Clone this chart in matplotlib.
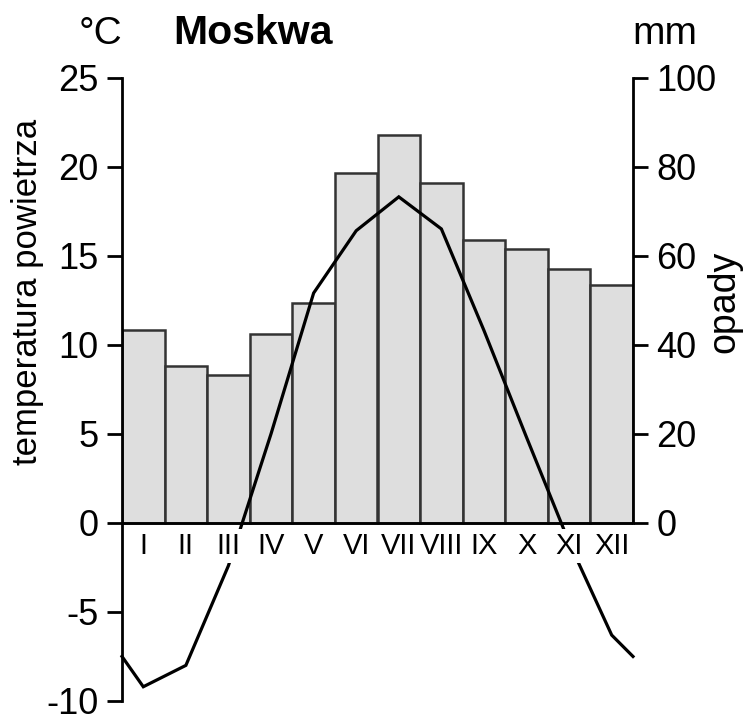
import matplotlib
matplotlib.use("Agg")
import matplotlib.pyplot as plt
import numpy as np

plt.rcParams['font.family'] = ['Liberation Sans', 'DejaVu Sans']
plt.rcParams['axes.unicode_minus'] = False

months = ["I", "II", "III", "IV", "V", "VI", "VII", "VIII", "IX", "X", "XI", "XII"]
# opady [mm]
precip = [43.3, 35.3, 33.3, 42.4, 49.4, 78.5, 87.0, 76.2, 63.5, 61.4, 57.1, 53.5]
# temperatura [C], srodek miesiaca
temp = [-9.2, -8.0, -2.4, 5.0, 12.9, 16.4, 18.3, 16.5, 10.8, 4.8, -1.1, -6.3]
temp_edge = -7.5  # wartosc na brzegach wykresu

W, H = 752, 720
fig = plt.figure(figsize=(W/100, H/100), dpi=100)
ax1 = fig.add_axes([122/W, 1 - 701/H, (633 - 122)/W, (701 - 77.5)/H])
ax2 = ax1.twinx()
ax1.set_zorder(ax2.get_zorder() + 1)
ax1.patch.set_visible(False)

x = np.arange(len(months)) + 0.5
ax2.bar(x, precip, width=1.0, color="#dedede", edgecolor="#333333", linewidth=1.8)

tx = np.concatenate([[0], x, [12]])
ty = np.concatenate([[temp_edge], temp, [temp_edge]])
ax1.plot(tx, ty, color="black", lw=2.3, solid_joinstyle="miter", zorder=3, clip_on=False)
ax1.axhline(0, color="black", lw=2, zorder=4)

for xi, m in zip(x, months):
    ax1.text(xi, -1.3, m, ha="center", va="center", fontsize=21, zorder=5,
             bbox=dict(facecolor="white", edgecolor="none", pad=2))

ax1.set_xlim(0, 12)
ax1.set_ylim(-10, 25)
ax2.set_ylim(-40, 100)

ax1.set_xticks([])
ax1.set_yticks(range(-10, 26, 5))
ax2.set_yticks(range(0, 101, 20))
ax1.tick_params(axis="y", length=11, width=2, pad=6, labelsize=26)
ax2.tick_params(axis="y", length=11, width=2, pad=6, labelsize=26)

for s in ["top", "bottom", "right"]:
    ax1.spines[s].set_visible(False)
for s in ["top", "bottom", "left"]:
    ax2.spines[s].set_visible(False)
ax1.spines["left"].set_bounds(-10, 25)
ax1.spines["left"].set_linewidth(2)
ax2.spines["right"].set_bounds(0, 100)
ax2.spines["right"].set_linewidth(2)

fig.text(28/W, 1 - 292/H, "temperatura powietrza", rotation=90, ha="center", va="center", fontsize=25)
fig.text(724/W, 1 - 302/H, "opady", rotation=90, ha="center", va="center", fontsize=27)

fig.text(122/W, 1 - 44/H, "°C", ha="right", va="baseline", fontsize=28)
fig.text(173/W, 1 - 44/H, "Moskwa", ha="left", va="baseline", fontsize=29.5, fontweight="bold")
fig.text(632/W, 1 - 44/H, "mm", ha="left", va="baseline", fontsize=28)

fig.savefig("out.png", dpi=100)
